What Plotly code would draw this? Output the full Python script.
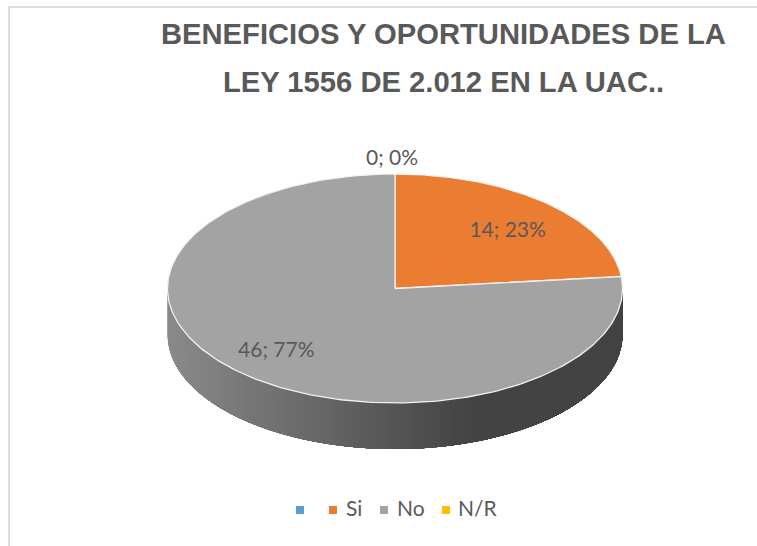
import numpy as np
import plotly.graph_objects as go

names = ["", "Si", "No", "N/R"]
values = [0, 14, 46, 0]
percents = ["0%", "23%", "77%", "0%"]
colors = ["#5B9BD5", "#EA7D32", "#A3A3A3", "#FFC000"]
title_lines = ["BENEFICIOS Y OPORTUNIDADES DE LA", "LEY 1556 DE 2.012 EN LA UAC.."]

CX, CY, RX, RY, DEPTH = 395.0, 288.5, 227.5, 114.5, 46.0
total = sum(values)
cum = np.cumsum([0] + values) / total * 2 * np.pi


def ex(a):
    return CX + RX * np.sin(a)


def ey(a):
    return CY - RY * np.cos(a)


fig = go.Figure()

# side wall: overlapping strips painted left to right so no seams appear
edge = np.linspace(3 * np.pi / 2, np.pi / 2, 141)
dark = np.array([67, 67, 67])
light = np.array([138, 138, 138])
for a0 in edge[:-1]:
    sub = np.linspace(a0, np.pi / 2, 60)
    xs = np.r_[ex(sub), ex(sub[::-1])]
    ys = np.r_[ey(sub), ey(sub[::-1]) + DEPTH]
    t = np.clip((ex(a0) - 168) / (470 - 168), 0, 1)
    c = (light + (dark - light) * t).astype(int)
    col = f"rgb({c[0]},{c[1]},{c[2]})"
    fig.add_trace(go.Scatter(x=xs, y=ys, mode="lines", fill="toself", fillcolor=col,
                             line=dict(width=0), showlegend=False, hoverinfo="skip"))

# top faces
for i, name in enumerate(names):
    if values[i] == 0:
        continue
    arc = np.linspace(cum[i], cum[i + 1], 240)
    xs = np.r_[CX, ex(arc), CX]
    ys = np.r_[CY, ey(arc), CY]
    fig.add_trace(go.Scatter(x=xs, y=ys, mode="lines", fill="toself", fillcolor=colors[i],
                             line=dict(color="#F2F2F2", width=1.3), showlegend=False, hoverinfo="skip"))

# data labels
label_frac = [1.15, 0.74, 0.76]
label_dy = [3, 6, -1]
label_dx = [-3, 0, -3]
lx, ly, lt = [], [], []
for i in range(3):
    mid = (cum[i] + cum[i + 1]) / 2
    lx.append(CX + (ex(mid) - CX) * label_frac[i] + label_dx[i])
    ly.append(CY + (ey(mid) - CY) * label_frac[i] + label_dy[i])
    lt.append(f"{values[i]}; {percents[i]}")
fig.add_trace(go.Scatter(x=lx, y=ly, text=lt, mode="text", textposition="middle center",
                         textfont=dict(family="Lato", size=21, color="#595959"),
                         showlegend=False, hoverinfo="skip"))

# legend row
marker_x = [300, 333, 384, 446]
text_x = [316, 346, 397, 458]
LEG_Y = 510
fig.add_trace(go.Scatter(x=marker_x, y=[LEG_Y] * 4, mode="markers", showlegend=False, hoverinfo="skip",
                         marker=dict(symbol="square", size=8, color=colors)))
fig.add_trace(go.Scatter(x=text_x, y=[LEG_Y + 1] * 4, text=names, mode="text", textposition="middle right",
                         textfont=dict(family="Lato", size=21, color="#595959"),
                         showlegend=False, hoverinfo="skip"))

fig.update_layout(
    width=757, height=546, margin=dict(l=0, r=0, t=0, b=0),
    paper_bgcolor="white", plot_bgcolor="white",
    xaxis=dict(range=[0, 757], visible=False, fixedrange=True),
    yaxis=dict(range=[546, 0], visible=False, fixedrange=True),
    showlegend=False,
    annotations=[
        dict(x=443, y=34, xref="x", yref="y", text=title_lines[0], showarrow=False,
             font=dict(family="Liberation Sans", size=29.2, color="#595959", weight="bold")),
        dict(x=443.5, y=82, xref="x", yref="y", text=title_lines[1], showarrow=False,
             font=dict(family="Liberation Sans", size=29.2, color="#595959", weight="bold")),
    ],
    shapes=[dict(type="path", path="M 9 546 L 9 7 L 757 7", xref="x", yref="y",
                 line=dict(color="#DCDCDC", width=2))],
)
fig.write_html("out.html", config={"displayModeBar": False},
               post_script="document.body.style.margin='0';document.body.style.overflow='hidden';")
